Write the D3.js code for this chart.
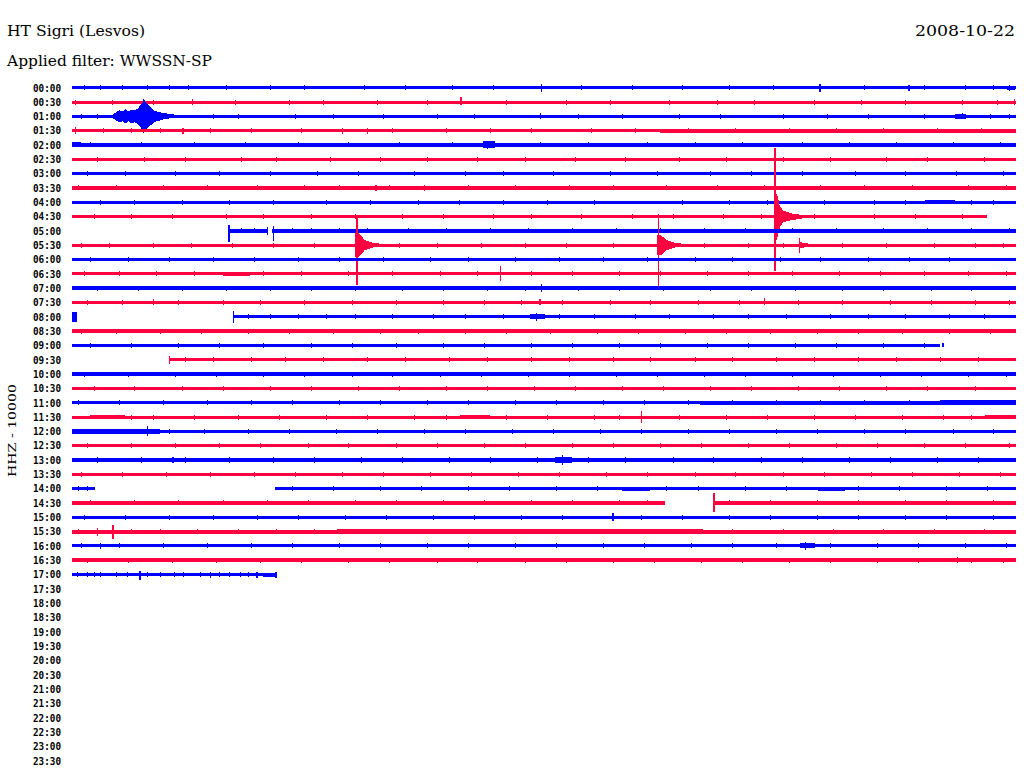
<!DOCTYPE html>
<html><head><meta charset="utf-8">
<script src="https://cdn.jsdelivr.net/npm/d3@7"></script>
<style>body{margin:0;background:#fff}svg{display:block}</style>
</head><body>
<script>
// ---------- texts ----------
const titleText = "HT Sigri (Lesvos)";
const filterText = "Applied filter: WWSSN-SP";
const dateText = "2008-10-22";
const channelText = "HHZ - 10000";

// ---------- row (time) labels ----------
const rowLabels = ["00:00","00:30","01:00","01:30","02:00","02:30","03:00","03:30","04:00","04:30",
  "05:00","05:30","06:00","06:30","07:00","07:30","08:00","08:30","09:00","09:30",
  "10:00","10:30","11:00","11:30","12:00","12:30","13:00","13:30","14:00","14:30",
  "15:00","15:30","16:00","16:30","17:00","17:30","18:00","18:30","19:00","19:30",
  "20:00","20:30","21:00","21:30","22:00","22:30","23:00","23:30"];

// ---------- trace extents (minutes within each 30-minute row) ----------
const traceStart = [0,0,0,0,0,0,0,0,0,0, 4.99,0,0,0,0,0,0,0,0,3.11, 0,0,0,0,0,0,0,0,0,0, 0,0,0,0,0];
const traceEnd   = [30,30,30,30,30,30,30,30,30,29.08, 30,30,30,30,30,30,30,30,27.70,30, 30,30,30,30,30,30,30,30,30,30, 30,30,30,30,6.51];
const traceGaps = [[10,6.22,6.36],[16,0.16,5.12],[18,27.58,27.64],[28,0.73,6.45],[29,18.84,20.40]];

// background noise level (half band, counts)
const noiseLevel = [1050,1050,1050,1050,1400,1050,1050,1400,1050,1050,
  1400,1050,1050,1050,1400,1050,1050,1400,1050,1050,
  1400,1200,1200,1050,1050,1050,1400,1200,1050,1400,
  1050,1400,1050,1400,1050];

// bursts: [row, startMinute, stepMinutes, envelope amplitudes (counts)]
const bursts = [
  [2, 1.30, 0.1, [1400,2800,4200,3500,4900,3500,4900,4200,5600,8400,11200,8400,6300,4200,3500,2800,2100,2100,1400,1400,1050]],
  [9, 22.30, 0.1, [16100,16100,7000,4200,3500,2800,2100,2100,1400,1400,1050]],
  [11, 9.00, 0.1, [8400,8400,6300,3500,2800,2100,1400,1400,1050]],
  [11, 18.60, 0.1, [7000,7000,5600,3500,2800,2100,1400,1400,1050]],
  [11, 23.13, 0.1, [2100,1750,1400,1050]],
  [0, 29.70, 0.27, [1400,1400]],
  [2, 28.06, 0.34, [1750,1750]],
  [3, 18.68, 11.32, [1400,1400]],
  [4, 0.00, 0.30, [1750,1750]],
  [4, 13.06, 0.38, [2450,2450]],
  [8, 17.40, 1.60, [1200,1200]],
  [8, 27.10, 0.96, [1400,1400]],
  [9, 24.10, 0.90, [1200,1200]],
  [12, 28.20, 1.80, [1200,1200]],
  [13, 4.80, 0.86, [1400,1400]],
  [16, 0.00, 0.16, [3500,3500]],
  [16, 14.55, 0.48, [1750,1750]],
  [22, 19.96, 10.04, [1400,1400]],
  [22, 27.58, 2.42, [1900,1900]],
  [23, 0.57, 1.11, [1600,1600]],
  [23, 12.33, 0.95, [1600,1600]],
  [23, 29.00, 1.00, [1600,1600]],
  [24, 0.00, 2.80, [1900,1900]],
  [26, 15.35, 0.55, [2100,2100]],
  [28, 17.48, 0.89, [1400,1400]],
  [28, 23.70, 0.86, [1400,1400]],
  [31, 8.42, 11.63, [1750,1750]],
  [32, 23.13, 0.47, [1750,1750]],
  [34, 6.07, 0.44, [1400,1400]]
];

// spikes: [row, minute, up (counts), down (counts)]
const spikes = [
  [0,14.93,2800,2800],[0,23.77,2800,2800],[0,26.60,2100,2100],[0,29.80,2100,2100],
  [1,3.84,2100,2100],[1,12.36,3500,2100],[1,29.95,2100,2100],
  [2,2.26,11900,11900],[2,14.90,2100,2100],[2,28.30,2100,2100],
  [3,0.10,2800,2100],[3,3.53,2100,2100],[3,8.60,2100,2100],[3,9.40,2100,2100],
  [4,13.20,2800,2800],
  [7,11.21,2100,2100],[7,9.66,2100,2100],
  [9,22.34,48300,37800],
  [10,4.99,4200,7700],[10,6.21,2800,2800],[10,6.40,3500,7000],
  [11,9.06,20300,28000],[11,18.65,21700,30100],[11,23.13,4900,5600],
  [13,13.63,5600,4900],
  [14,14.93,2800,2800],
  [15,2.58,2100,2100],[15,14.87,2100,2100],[15,22.02,2800,2100],
  [16,0.05,3500,3500],[16,5.12,4200,4200],[16,14.75,2800,2800],
  [18,27.68,1400,1400],
  [19,3.11,2800,2800],
  [23,18.11,4200,4200],
  [24,2.40,3500,3500],
  [26,3.21,2100,2100],[26,15.60,3500,3500],
  [29,20.40,7000,6300],
  [30,17.19,2800,2800],
  [31,1.30,4900,4900],[31,0.80,2800,2800],
  [32,0.90,2100,2100],[32,23.30,2800,2800],
  [33,28.15,2100,2100],
  [34,2.16,2500,3900],[34,4.41,2100,2100],[34,5.88,2100,2100],[34,6.48,2100,2100]
];

// small noise ticks (minutes) per row
const tickMinutes = [
  [0.4,0.9,1.6,2.4,3.1,3.7,4.9,6.3,7.4,9.3,10.6,12.1,13.4,16.2,17.8,19.4,20.9,22.3,25.2,27.1,28.4,29.3],
  [0.1,1.3,2.6,5.2,6.9,8.0,9.7,11.3,13.8,15.7,17.1,19.0,20.5,21.7,23.6,25.1,26.5,28.3,29.4],
  [0.3,0.8,4.5,5.3,7.1,8.3,9.9,11.6,12.8,16.1,17.5,19.3,20.6,22.6,24.0,25.3,27.1,29.2,29.8],
  [1.0,1.9,2.8,4.4,5.7,7.3,10.2,11.9,13.3,14.6,16.5,17.9,19.6,21.1,22.8,24.3,25.8,27.5,28.9],
  [0.6,2.2,3.9,5.5,7.2,8.8,10.4,12.1,14.9,16.4,18.3,19.8,21.3,23.2,24.7,26.2,28.0,29.5],
  [0.8,2.3,3.6,5.4,6.5,8.2,9.8,11.3,12.9,14.4,16.0,17.6,19.3,20.8,22.6,24.1,25.9,27.2,29.0],
  [0.5,1.7,3.3,4.7,6.3,7.8,9.1,10.9,12.5,13.7,15.3,17.1,18.6,20.3,21.6,23.2,24.9,26.5,28.1,29.6],
  [0.2,1.4,2.9,4.3,5.9,7.4,8.5,10.1,12.6,14.1,15.8,17.2,18.9,20.5,22.0,23.8,25.2,26.7,28.5,29.7],
  [0.9,2.0,3.5,5.0,6.4,8.1,9.5,11.0,12.3,13.7,15.1,16.6,19.4,20.9,22.1,23.9,25.5,26.5,28.6,29.3],
  [0.7,1.9,3.2,4.9,6.1,7.6,9.0,10.5,11.8,13.4,14.6,16.2,17.8,19.1,20.7,21.9,23.6,25.5,26.8,28.3],
  [5.4,5.8,7.0,7.6,8.5,9.4,10.7,11.9,13.3,14.5,15.9,17.3,18.7,20.1,21.4,22.9,24.3,25.8,27.2,28.6,29.8],
  [0.3,1.2,2.6,3.8,5.1,6.4,7.7,10.4,11.6,13.0,14.4,15.7,17.2,20.1,21.5,22.6,24.5,25.9,27.4,28.7,29.6],
  [0.6,1.8,3.1,4.5,5.8,7.2,8.5,9.9,11.4,12.6,14.1,15.5,16.9,18.3,19.8,21.0,22.5,23.8,25.3,26.6,27.9],
  [0.4,1.5,2.7,3.9,6.1,7.3,8.8,10.2,11.7,12.9,14.6,15.9,17.4,18.7,20.2,21.5,22.9,24.4,25.7,27.1,28.5,29.7],
  [0.8,2.1,3.5,4.9,6.3,7.6,9.0,10.5,11.8,13.2,14.4,16.1,17.4,18.8,20.3,21.6,23.0,24.5,25.8,27.3,28.6],
  [0.5,1.6,3.4,4.8,6.0,7.4,8.9,10.3,11.8,13.1,14.3,15.6,17.1,18.4,19.9,21.2,23.1,24.5,26.0,27.3,28.7,29.8],
  [5.6,6.3,7.2,8.1,9.0,10.2,11.5,12.5,13.7,15.5,16.6,17.9,19.0,20.4,21.5,22.7,24.1,25.3,26.5,27.9,29.0],
  [0.3,1.4,2.8,4.1,5.6,6.9,8.3,9.8,11.0,12.5,13.8,15.2,16.7,18.0,19.5,20.8,22.2,23.7,25.0,26.4,27.9,29.2],
  [0.6,1.9,3.4,4.7,6.1,7.6,8.9,10.3,11.8,13.1,14.6,15.9,17.4,18.7,20.2,21.5,23.0,24.3,25.8,27.1],
  [3.6,4.5,5.7,6.8,8.0,9.4,10.6,12.0,13.2,14.6,15.8,17.2,18.4,19.8,21.0,22.4,23.6,25.0,26.2,27.6,28.8],
  [0.4,1.8,3.3,4.6,6.1,7.4,8.9,10.2,11.7,13.0,14.5,15.8,17.3,18.6,20.1,21.4,22.9,24.2,25.7,27.0,28.5,29.7],
  [0.7,2.0,3.5,4.8,6.3,7.6,9.1,10.4,11.9,13.2,14.7,16.0,17.5,18.8,20.3,21.6,23.1,24.4,25.9,27.2,28.7],
  [0.2,1.5,2.9,4.3,5.7,7.0,8.5,9.8,11.3,12.6,14.1,15.4,16.9,18.2,19.6,21.0,22.4,23.8,25.2,26.6,28.0,29.4],
  [1.9,2.6,3.9,5.3,6.6,8.1,9.4,10.9,11.9,13.8,15.1,16.6,17.4,19.3,20.8,22.1,23.6,24.9,26.4,27.7,28.6],
  [3.1,4.2,5.6,6.9,8.4,9.7,11.2,12.5,14.0,15.3,16.8,18.1,19.6,20.9,22.4,23.7,25.2,26.5,28.0,29.3],
  [0.5,1.9,3.3,4.7,6.0,7.5,8.8,10.3,11.6,13.1,14.4,15.9,17.2,18.7,20.0,21.5,22.8,24.3,25.6,27.1,28.4,29.8],
  [0.8,2.2,3.6,5.0,6.4,7.7,9.2,10.5,12.0,13.3,14.8,16.4,17.6,19.1,20.4,21.9,23.2,24.7,26.0,27.5,28.8],
  [0.3,1.6,3.0,4.4,5.8,7.1,8.6,9.9,11.4,12.7,14.2,15.5,17.0,18.3,19.8,21.1,22.6,23.9,25.4,26.7,28.2,29.5],
  [0.2,0.5,7.0,8.3,9.8,11.1,12.6,13.9,15.4,16.7,18.9,19.9,21.4,22.7,25.0,26.3,27.8,29.1],
  [0.6,2.0,3.4,4.8,6.2,7.5,9.0,10.3,11.8,13.1,14.6,15.9,17.4,18.3,20.9,22.2,23.7,25.0,26.5,27.8,29.3],
  [0.4,1.7,3.1,4.5,5.9,7.2,8.7,10.0,11.5,12.8,14.3,15.6,18.1,19.4,20.9,22.2,23.7,25.0,26.5,27.8,29.3],
  [0.2,1.9,2.8,4.0,5.3,6.5,7.7,9.0,10.3,11.6,12.9,14.2,15.5,16.8,18.1,19.4,21.0,22.6,24.2,25.8,27.4,29.0],
  [0.3,1.5,2.9,4.3,5.7,7.0,8.5,9.8,11.3,12.6,14.1,15.4,16.9,18.2,19.7,21.0,22.4,24.1,25.6,26.9,28.4,29.7],
  [0.5,1.8,3.2,4.6,6.0,7.3,8.8,10.1,11.6,12.9,14.4,15.7,17.2,18.5,20.0,21.3,22.8,24.1,25.6,26.9,28.6,29.6],
  [0.16,0.48,0.70,0.89,1.43,1.75,2.41,2.80,3.27,3.53,4.07,4.70,5.02,5.34,5.60]
];
const tickAmp = 1750;

// ---------- drawing ----------
const W = 1024, H = 780;
const colors = ["#0000ff", "#ff0040"];
const svg = d3.select("body").append("svg").attr("width", W).attr("height", H);

const x = d3.scaleLinear().domain([0, 30]).range([72, 1016]);
const y = d3.scaleLinear().domain([0, rowLabels.length - 1]).range([87.7, 760.7]);
const amp = d3.scaleLinear().domain([0, 10000]).range([0, 14.3]);

// titles
svg.append("text").attr("x", 7).attr("y", 35.5).text(titleText)
  .attr("font-family", "DejaVu Serif").attr("font-size", 14)
  .attr("textLength", 138).attr("lengthAdjust", "spacingAndGlyphs");
svg.append("text").attr("x", 7).attr("y", 66).text(filterText)
  .attr("font-family", "DejaVu Serif").attr("font-size", 14)
  .attr("textLength", 205).attr("lengthAdjust", "spacingAndGlyphs");
svg.append("text").attr("x", 915).attr("y", 36).text(dateText)
  .attr("font-family", "DejaVu Serif").attr("font-size", 14)
  .attr("textLength", 100).attr("lengthAdjust", "spacingAndGlyphs");

// channel label
svg.append("text").attr("transform", "translate(16,430.5) rotate(-90)")
  .attr("text-anchor", "middle").text(channelText)
  .attr("font-family", "DejaVu Serif").attr("font-size", 11)
  .attr("textLength", 93).attr("lengthAdjust", "spacingAndGlyphs");

// row labels
svg.append("g").selectAll("text").data(rowLabels).join("text")
  .attr("x", 33).attr("y", (d, i) => y(i) + 3.8)
  .attr("font-family", "DejaVu Sans Mono").attr("font-weight", "bold").attr("font-size", 11)
  .attr("textLength", 28).attr("lengthAdjust", "spacingAndGlyphs")
  .text(d => d);

// traces
const area = d3.area();
traceStart.forEach((s, r) => {
  const col = colors[r % 2];
  const cy = y(r);
  const g = svg.append("g").attr("shape-rendering", "crispEdges");

  let segs = [[s, traceEnd[r]]];
  traceGaps.filter(d => d[0] === r).forEach(([, g0, g1]) => {
    segs = segs.flatMap(([p, q]) => (g1 <= p || g0 >= q) ? [[p, q]] :
      [[p, g0], [g1, q]].filter(([u, v]) => v > u));
  });
  const n = amp(noiseLevel[r]);
  g.selectAll("rect.seg").data(segs).join("rect").attr("class", "seg")
    .attr("x", d => x(d[0])).attr("width", d => Math.max(1, x(d[1]) - x(d[0])))
    .attr("y", cy - n).attr("height", 2 * n).attr("fill", col);

  // small ticks
  g.selectAll("line.tk").data(tickMinutes[r]).join("line").attr("class", "tk")
    .attr("x1", d => x(d)).attr("x2", d => x(d))
    .attr("y1", cy - amp(tickAmp)).attr("y2", cy + amp(tickAmp))
    .attr("stroke", col).attr("stroke-width", 1);

  // bursts
  bursts.filter(b => b[0] === r).forEach(([, st, step, env]) => {
    g.append("path")
      .attr("d", area.x((d, i) => x(st + i * step)).y0(d => cy - amp(d)).y1(d => cy + amp(d))(env))
      .attr("fill", col);
  });

  // spikes
  g.selectAll("line.sp").data(spikes.filter(d => d[0] === r)).join("line").attr("class", "sp")
    .attr("x1", d => x(d[1])).attr("x2", d => x(d[1]))
    .attr("y1", d => cy - amp(d[2])).attr("y2", d => cy + amp(d[3]))
    .attr("stroke", col).attr("stroke-width", 1.2);
});
</script>
</body></html>
